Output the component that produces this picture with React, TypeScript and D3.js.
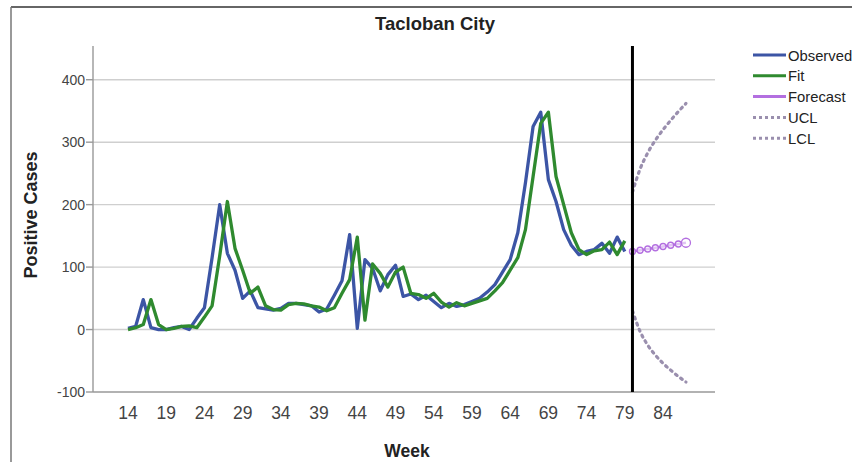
import { useEffect, useRef } from 'react';
import * as d3 from 'd3';

const weeks = d3.range(14, 80);
const observed = [2, 5, 48, 3, 0, 0, 3, 5, 0, 18, 35, 115, 200, 122, 95, 50, 62, 35, 33, 31,
  34, 42, 42, 40, 38, 28, 33, 55, 78, 152, 2, 112, 98, 62, 88, 103, 53, 57, 48, 55,
  45, 35, 42, 37, 40, 45, 50, 60, 72, 92, 112, 155, 235, 325, 348, 240, 205, 160, 135, 120,
  125, 128, 138, 122, 148, 125];
const fit = [0, 3, 8, 48, 8, 0, 2, 5, 6, 3, 20, 38, 118, 205, 130, 95, 58, 68, 38, 32,
  31, 40, 42, 41, 38, 36, 30, 35, 58, 80, 148, 15, 105, 90, 68, 92, 100, 58, 56, 50,
  58, 44, 36, 43, 38, 42, 46, 50, 62, 75, 95, 115, 160, 245, 330, 348, 245, 200, 155, 128,
  120, 126, 128, 140, 120, 142];
const forecastWeeks = [80, 81, 82, 83, 84, 85, 86, 87];
const forecast = [125, 127, 129, 131, 133, 135, 137, 139];
const ucl = [220, 257, 283, 303, 320, 335, 349, 362];
const lcl = [30, -3, -25, -41, -54, -65, -75, -84];
const xTicks = [14, 19, 24, 29, 34, 39, 44, 49, 54, 59, 64, 69, 74, 79, 84];
const yTicks = [-100, 0, 100, 200, 300, 400];
const cutoffWeek = 80;

const legendItems = [
  { label: 'Observed', color: '#3c55a5', dash: '' },
  { label: 'Fit', color: '#2f8a2f', dash: '' },
  { label: 'Forecast', color: '#b36fe0', dash: '' },
  { label: 'UCL', color: '#9a8fae', dash: '3,3' },
  { label: 'LCL', color: '#9a8fae', dash: '3,3' },
];

const App = () => {
  const ref = useRef<SVGSVGElement>(null);

  useEffect(() => {
    const svg = d3.select(ref.current);
    svg.selectAll('*').remove();

    const left = 93, right = 715, top = 46, bottom = 392;
    const font = 'Arial, Liberation Sans, sans-serif';
    const x = d3.scaleLinear().domain([9.42, 90.8]).range([left, right]);
    const y = d3.scaleLinear().domain([-100, 454]).range([bottom, top]);

    // frame of the screenshot
    svg.append('line').attr('x1', 11).attr('x2', 852).attr('y1', 7).attr('y2', 7)
      .attr('stroke', '#333').attr('stroke-width', 1.5);
    svg.append('line').attr('x1', 11).attr('x2', 11).attr('y1', 7).attr('y2', 462)
      .attr('stroke', '#777').attr('stroke-width', 1.5);

    // grid
    svg.append('g').selectAll('line')
      .data(yTicks.filter((d) => d > -100))
      .enter().append('line')
      .attr('x1', left).attr('x2', right)
      .attr('y1', (d) => y(d)).attr('y2', (d) => y(d))
      .attr('stroke', '#cfcfcf').attr('stroke-width', 1.4);

    // axes
    svg.append('line').attr('x1', left).attr('x2', left).attr('y1', top).attr('y2', bottom)
      .attr('stroke', '#999').attr('stroke-width', 1.4);
    svg.append('line').attr('x1', left).attr('x2', right).attr('y1', bottom).attr('y2', bottom)
      .attr('stroke', '#999').attr('stroke-width', 1.4);

    svg.append('g').selectAll('line')
      .data(yTicks)
      .enter().append('line')
      .attr('x1', left - 7).attr('x2', left)
      .attr('y1', (d) => y(d)).attr('y2', (d) => y(d))
      .attr('stroke', '#999').attr('stroke-width', 1.4);

    svg.append('g').selectAll('text')
      .data(yTicks)
      .enter().append('text')
      .attr('x', left - 8).attr('y', (d) => y(d) + 5)
      .attr('text-anchor', 'end')
      .attr('font-family', font)
      .attr('font-size', 14).attr('fill', '#444')
      .text((d) => d);

    svg.append('g').selectAll('text')
      .data(xTicks)
      .enter().append('text')
      .attr('x', (d) => x(d)).attr('y', 419)
      .attr('text-anchor', 'middle')
      .attr('font-family', font)
      .attr('font-size', 17.5).attr('fill', '#444')
      .text((d) => d);

    // titles
    svg.append('text').attr('x', 435).attr('y', 30).attr('text-anchor', 'middle')
      .attr('font-family', font)
      .attr('font-size', 18.5).attr('font-weight', 'bold').attr('fill', '#222')
      .text('Tacloban City');
    svg.append('text').attr('x', 407).attr('y', 457).attr('text-anchor', 'middle')
      .attr('font-family', font)
      .attr('font-size', 17.5).attr('font-weight', 'bold').attr('fill', '#222')
      .text('Week');
    svg.append('text').attr('transform', 'translate(37,215) rotate(-90)')
      .attr('text-anchor', 'middle')
      .attr('font-family', font)
      .attr('font-size', 18).attr('font-weight', 'bold').attr('fill', '#222')
      .text('Positive Cases');

    const line = d3.line<[number, number]>()
      .x((d) => x(d[0]))
      .y((d) => y(d[1]));
    const curved = d3.line<[number, number]>()
      .x((d) => x(d[0]))
      .y((d) => y(d[1]))
      .curve(d3.curveMonotoneX);

    const obsPts = weeks.map((w, i) => [w, observed[i]] as [number, number]);
    const fitPts = weeks.map((w, i) => [w, fit[i]] as [number, number]);
    const fcPts = forecastWeeks.map((w, i) => [w, forecast[i]] as [number, number]);
    const uclPts = forecastWeeks.map((w, i) => [w, ucl[i]] as [number, number]);
    const lclPts = forecastWeeks.map((w, i) => [w, lcl[i]] as [number, number]);

    svg.append('path').attr('d', line(obsPts)).attr('fill', 'none')
      .attr('stroke', legendItems[0].color).attr('stroke-width', 3.3).attr('stroke-linejoin', 'round');
    svg.append('path').attr('d', line(fitPts)).attr('fill', 'none')
      .attr('stroke', legendItems[1].color).attr('stroke-width', 3.3).attr('stroke-linejoin', 'round');

    [uclPts, lclPts].forEach((pts) => {
      svg.append('path').attr('d', curved(pts)).attr('fill', 'none')
        .attr('stroke', '#9a8fae').attr('stroke-width', 3.2)
        .attr('stroke-dasharray', '2,4.5').attr('stroke-linecap', 'round');
    });

    svg.append('path').attr('d', line(fcPts)).attr('fill', 'none')
      .attr('stroke', legendItems[2].color).attr('stroke-width', 2.5);
    svg.append('g').selectAll('circle')
      .data(fcPts)
      .enter().append('circle')
      .attr('cx', (d) => x(d[0])).attr('cy', (d) => y(d[1]))
      .attr('r', (d, i) => (i === fcPts.length - 1 ? 4.5 : 3))
      .attr('fill', 'white').attr('fill-opacity', 0.6)
      .attr('stroke', legendItems[2].color).attr('stroke-width', 1.3);

    // cutoff
    svg.append('line').attr('x1', x(cutoffWeek)).attr('x2', x(cutoffWeek))
      .attr('y1', top).attr('y2', bottom)
      .attr('stroke', '#000').attr('stroke-width', 3);

    // legend
    const lg = svg.append('g').attr('transform', 'translate(753,55)');
    legendItems.forEach((item, i) => {
      const g = lg.append('g').attr('transform', `translate(0,${i * 20.8})`);
      g.append('line').attr('x1', 0).attr('x2', 33).attr('y1', 0).attr('y2', 0)
        .attr('stroke', item.color).attr('stroke-width', 3)
        .attr('stroke-dasharray', item.dash || null);
      g.append('text').attr('x', 35).attr('y', 5.5)
        .attr('font-family', font)
        .attr('font-size', 14.8).attr('fill', '#222')
        .text(item.label);
    });
  }, []);

  return (
    <svg ref={ref} width={852} height={462}
      style={{ position: 'absolute', left: 0, top: 0, background: '#fff' }} />
  );
};

export default App;
